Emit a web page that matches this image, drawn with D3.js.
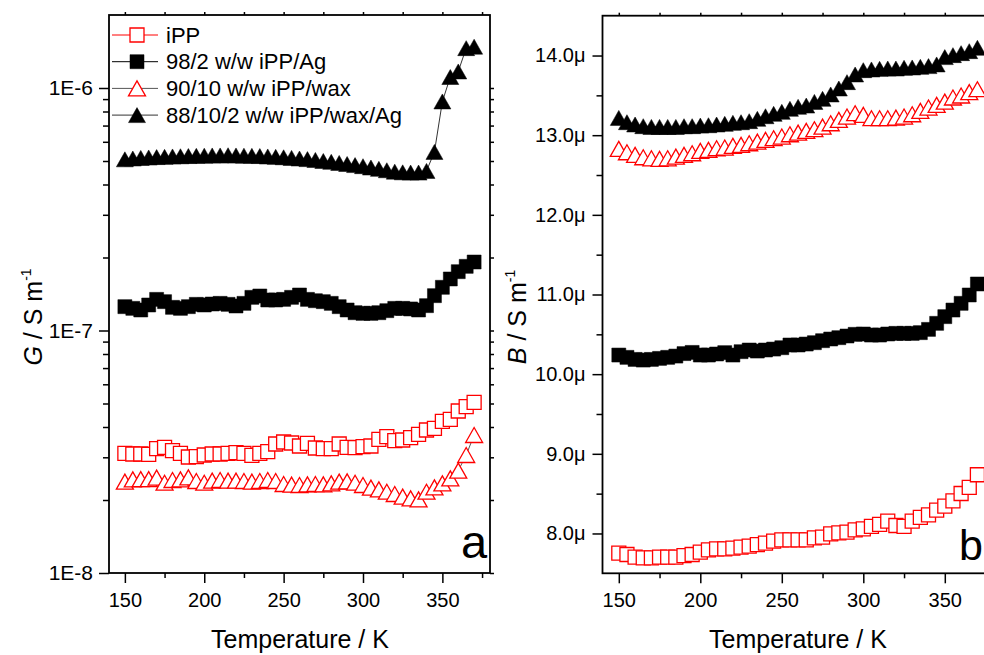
<!DOCTYPE html>
<html><head><meta charset="utf-8">
<script src="https://cdn.jsdelivr.net/npm/d3@7"></script>
<style>
body{margin:0;background:#fff}
svg{display:block}
text{font-family:"Liberation Sans",Arial,Helvetica,sans-serif;fill:#000}
</style>
</head><body>
<svg id="chart" width="984" height="655"></svg>
<script>
// ---------------- data ----------------
const temperature = [150,155,160,165,170,175,180,185,190,195,200,205,210,215,220,225,230,235,240,245,250,255,260,265,270,275,280,285,290,295,300,305,310,315,320,325,330,335,340,345,350,355,360,365,370];
const seriesNames = ["iPP", "98/2 w/w iPP/Ag", "90/10 w/w iPP/wax", "88/10/2 w/w iPP/wax/Ag"];

// panel a : G / S m^-1
const G_iPP = [3.114e-8,3.095e-8,3.095e-8,3.085e-8,3.256e-8,3.297e-8,3.194e-8,3.114e-8,3.008e-8,3.018e-8,3.066e-8,3.095e-8,3.095e-8,3.114e-8,3.134e-8,3.114e-8,3.056e-8,3.114e-8,3.164e-8,3.404e-8,3.469e-8,3.436e-8,3.339e-8,3.425e-8,3.277e-8,3.256e-8,3.256e-8,3.404e-8,3.297e-8,3.287e-8,3.319e-8,3.339e-8,3.558e-8,3.649e-8,3.513e-8,3.535e-8,3.614e-8,3.730e-8,3.887e-8,3.950e-8,4.221e-8,4.302e-8,4.656e-8,4.852e-8,5.056e-8];
const G_98_2 = [1.254e-7,1.234e-7,1.215e-7,1.274e-7,1.344e-7,1.315e-7,1.246e-7,1.234e-7,1.254e-7,1.282e-7,1.274e-7,1.286e-7,1.294e-7,1.282e-7,1.262e-7,1.294e-7,1.370e-7,1.388e-7,1.336e-7,1.336e-7,1.344e-7,1.370e-7,1.401e-7,1.344e-7,1.327e-7,1.315e-7,1.294e-7,1.254e-7,1.215e-7,1.184e-7,1.177e-7,1.177e-7,1.184e-7,1.207e-7,1.234e-7,1.234e-7,1.227e-7,1.215e-7,1.266e-7,1.392e-7,1.507e-7,1.631e-7,1.748e-7,1.839e-7,1.916e-7];
const G_90_10 = [2.380e-8,2.433e-8,2.440e-8,2.440e-8,2.472e-8,2.357e-8,2.418e-8,2.433e-8,2.480e-8,2.395e-8,2.357e-8,2.403e-8,2.418e-8,2.403e-8,2.403e-8,2.395e-8,2.380e-8,2.395e-8,2.418e-8,2.395e-8,2.328e-8,2.313e-8,2.306e-8,2.321e-8,2.328e-8,2.321e-8,2.343e-8,2.380e-8,2.388e-8,2.357e-8,2.306e-8,2.248e-8,2.213e-8,2.164e-8,2.117e-8,2.064e-8,2.031e-8,2.012e-8,2.164e-8,2.255e-8,2.343e-8,2.457e-8,2.642e-8,3.066e-8,3.707e-8];
const G_88_10_2 = [5.08e-7,5.12e-7,5.15e-7,5.17e-7,5.19e-7,5.20e-7,5.22e-7,5.23e-7,5.24e-7,5.25e-7,5.26e-7,5.27e-7,5.27e-7,5.28e-7,5.27e-7,5.26e-7,5.25e-7,5.24e-7,5.22e-7,5.20e-7,5.18e-7,5.15e-7,5.12e-7,5.09e-7,5.05e-7,5.00e-7,4.96e-7,4.91e-7,4.86e-7,4.81e-7,4.76e-7,4.70e-7,4.64e-7,4.58e-7,4.52e-7,4.49e-7,4.48e-7,4.48e-7,4.55e-7,5.45e-7,8.8e-7,1.11e-6,1.17e-6,1.46e-6,1.48e-6];

// panel b : B / S m^-1 (in micro S/m)
const B_iPP = [7.753,7.736,7.702,7.694,7.694,7.702,7.702,7.702,7.723,7.736,7.765,7.794,7.807,7.807,7.815,7.828,7.840,7.861,7.878,7.903,7.920,7.920,7.920,7.920,7.945,7.954,7.996,8.008,8.016,8.046,8.058,8.088,8.113,8.155,8.100,8.088,8.155,8.201,8.234,8.293,8.343,8.410,8.502,8.578,8.737];
const B_98_2 = [10.240,10.211,10.185,10.177,10.185,10.198,10.211,10.227,10.258,10.273,10.240,10.240,10.253,10.270,10.240,10.282,10.303,10.290,10.303,10.315,10.332,10.366,10.366,10.378,10.395,10.420,10.441,10.458,10.479,10.500,10.504,10.491,10.491,10.504,10.512,10.512,10.512,10.521,10.562,10.638,10.722,10.805,10.889,10.994,11.132];
const B_90_10 = [12.828,12.786,12.752,12.723,12.710,12.702,12.710,12.731,12.752,12.773,12.803,12.815,12.836,12.845,12.866,12.878,12.899,12.920,12.941,12.962,12.983,13.012,13.033,13.054,13.075,13.108,13.150,13.192,13.234,13.276,13.255,13.213,13.213,13.213,13.221,13.234,13.263,13.305,13.347,13.380,13.422,13.473,13.498,13.540,13.577];
const B_88_10_2 = [13.217,13.163,13.134,13.113,13.104,13.104,13.104,13.104,13.113,13.113,13.121,13.125,13.134,13.142,13.155,13.163,13.176,13.205,13.238,13.268,13.293,13.331,13.356,13.372,13.418,13.456,13.511,13.586,13.666,13.762,13.816,13.825,13.833,13.837,13.837,13.846,13.850,13.858,13.867,13.888,13.980,14.005,14.030,14.055,14.097];

const xMajorTicks = [150,200,250,300,350];
const xMinorTicks = [175,225,275,325,375];
const gMajorTicks = [1e-8,1e-7,1e-6];
const gMinorTicks = [2e-8,3e-8,4e-8,5e-8,6e-8,7e-8,8e-8,9e-8,2e-7,3e-7,4e-7,5e-7,6e-7,7e-7,8e-7,9e-7];
const bMajorTicks = [8,9,10,11,12,13,14];
const bMinorTicks = [8.5,9.5,10.5,11.5,12.5,13.5];
const xTitle = "Temperature / K";

// ---------------- drawing ----------------
const svg = d3.select("#chart");
const RED = "#ff0000";
const styles = [
  {shape:"square",   fill:"#fff", stroke:RED,    line:RED},
  {shape:"square",   fill:"#000", stroke:"#000", line:"#000"},
  {shape:"triangle", fill:"#fff", stroke:RED,    line:"#555"},
  {shape:"triangle", fill:"#000", stroke:"#000", line:"#333"}
];
const SQ = 14, TW = 17, TH = 15;
function markerPath(shape){
  if(shape==="square") return `M${-SQ/2},${-SQ/2}h${SQ}v${SQ}h${-SQ}Z`;
  return `M0,${-TH/2}L${TW/2},${TH/2}L${-TW/2},${TH/2}Z`;
}

const xL = d3.scaleLinear([140,380],[109,490]);
const yL = d3.scaleLog([1e-8,2e-6],[573,15]);
const xR = d3.scaleLinear([140,380],[602.5,993.7]);
const yR = d3.scaleLinear([7.5,14.5],[573.3,15.7]);

function styleAxis(g, fs){
  g.select(".domain").remove();
  g.attr("font-family",null).attr("font-size",null);
  g.selectAll(".tick line").attr("stroke","#000").attr("stroke-width",1.5);
  g.selectAll(".tick text").style("font-size",fs+"px").attr("fill","#000");
}

function drawPanel(x, y, series, yMajor, yMinor, yFmt, yPad, yFs){
  const [x0,x1] = x.range();
  const [yb,yt] = y.range();
  const p = svg.append("g");
  styleAxis(p.append("g").attr("transform",`translate(0,${yb})`)
    .call(d3.axisBottom(x).tickValues(xMajorTicks).tickSize(10).tickPadding(10).tickSizeOuter(0)), 20);
  styleAxis(p.append("g").attr("transform",`translate(0,${yb})`)
    .call(d3.axisBottom(x).tickValues(xMinorTicks).tickSize(5).tickFormat("").tickSizeOuter(0)), 20);
  styleAxis(p.append("g").attr("transform",`translate(0,${yt})`)
    .call(d3.axisTop(x).tickValues(xMajorTicks.concat(xMinorTicks)).tickSize(3).tickFormat("").tickSizeOuter(0)), 20);
  styleAxis(p.append("g").attr("transform",`translate(${x0},0)`)
    .call(d3.axisLeft(y).tickValues(yMajor).tickSize(10).tickPadding(yPad).tickFormat(yFmt).tickSizeOuter(0)), yFs);
  styleAxis(p.append("g").attr("transform",`translate(${x0},0)`)
    .call(d3.axisLeft(y).tickValues(yMinor).tickSize(6).tickFormat("").tickSizeOuter(0)), yFs);
  styleAxis(p.append("g").attr("transform",`translate(${x1},0)`)
    .call(d3.axisRight(y).tickValues(yMajor.concat(yMinor)).tickSize(4).tickFormat("").tickSizeOuter(0)), yFs);
  p.append("rect").attr("x",x0).attr("y",yt).attr("width",x1-x0).attr("height",yb-yt)
    .attr("fill","none").attr("stroke","#000").attr("stroke-width",1.8);

  series.forEach((vals,si)=>{
    const st = styles[si];
    const pts = temperature.map((t,i)=>[x(t), y(vals[i])]);
    p.append("path").attr("d", d3.line()(pts)).attr("fill","none")
      .attr("stroke",st.line).attr("stroke-width",1);
    p.append("g").selectAll("path").data(pts).join("path")
      .attr("transform",d=>`translate(${d[0]},${d[1]})`)
      .attr("d", markerPath(st.shape))
      .attr("fill",st.fill).attr("stroke",st.stroke)
      .attr("stroke-width", st.fill==="#fff" ? 1.3 : 0.5);
  });
}

drawPanel(xL, yL, [G_iPP,G_98_2,G_90_10,G_88_10_2], gMajorTicks, gMinorTicks,
  d=>"1E"+Math.round(Math.log10(d)), 6, 21);
drawPanel(xR, yR, [B_iPP,B_98_2,B_90_10,B_88_10_2], bMajorTicks, bMinorTicks,
  d=>d.toFixed(1)+"\u03bc", 7, 20);

// legend
const lg = svg.append("g");
seriesNames.forEach((name,i)=>{
  const cy = 35 + i*26.7;
  const st = styles[i];
  lg.append("line").attr("x1",112).attr("x2",158).attr("y1",cy).attr("y2",cy)
    .attr("stroke",st.line).attr("stroke-width",1);
  lg.append("path").attr("transform",`translate(137,${cy})`).attr("d",markerPath(st.shape))
    .attr("fill",st.fill).attr("stroke",st.stroke).attr("stroke-width", st.fill==="#fff"?1.3:0.5);
  lg.append("text").attr("x",166).attr("y",cy+7.7).style("font-size","22px").text(name);
});

// axis titles
[[300,648],[798,648]].forEach(([cx,by])=>{
  svg.append("text").attr("x",cx).attr("y",by).attr("text-anchor","middle")
    .style("font-size","25px").text(xTitle);
});
function yTitle(letter, bx, cy){
  const t = svg.append("text").attr("transform",`translate(${bx},${cy}) rotate(-90)`)
    .attr("text-anchor","middle").style("font-size","25px");
  t.append("tspan").style("font-style","italic").text(letter);
  t.append("tspan").text(" / S m");
  t.append("tspan").attr("dy",-11).style("font-size","14px").text("-1");
}
yTitle("G", 42, 317);
yTitle("B", 526, 317);

// panel letters
svg.append("text").attr("x",461).attr("y",558).style("font-size","47px").text("a");
svg.append("text").attr("x",959).attr("y",560).style("font-size","43px").text("b");
</script>
</body></html>
